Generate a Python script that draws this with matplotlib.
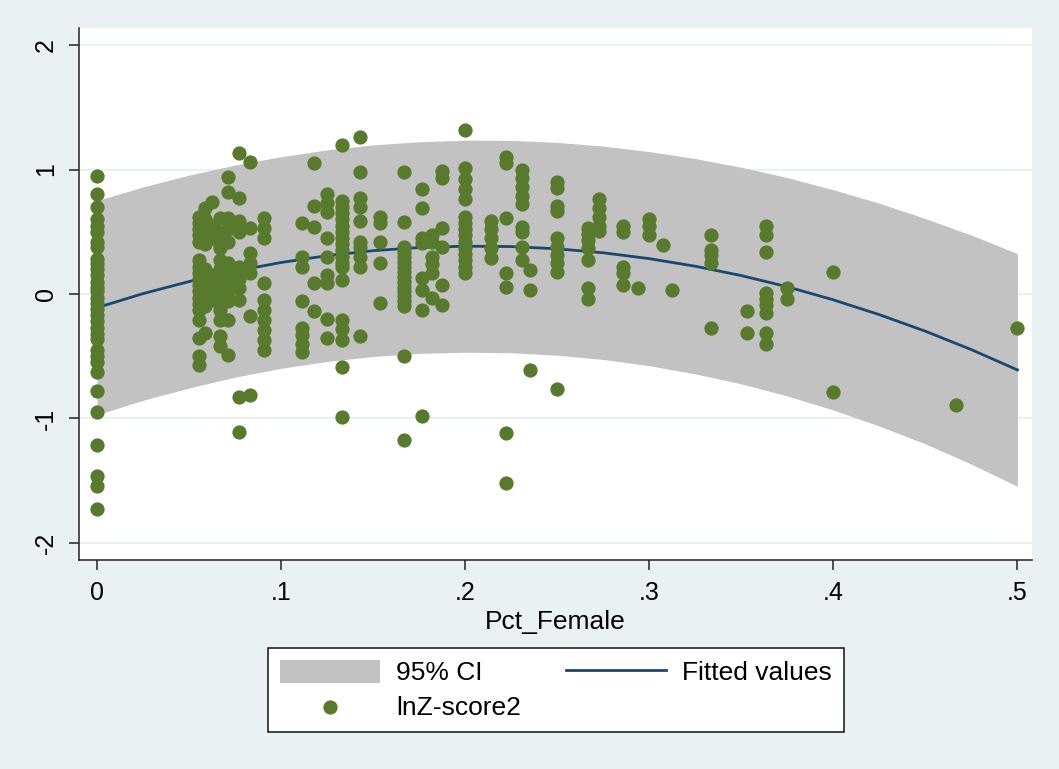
import numpy as np
import matplotlib.pyplot as plt
import matplotlib as mpl

plt.rcParams['font.family'] = ['Liberation Sans', 'DejaVu Sans']

# discrete Pct_Female levels and the lnZ-score2 values read at each level
x_levels = [0.0, 0.0556, 0.0588, 0.0625, 0.0667, 0.0714, 0.0769, 0.0833, 0.0909,
            0.1111, 0.1176, 0.125, 0.1333, 0.1429, 0.1538, 0.1667, 0.1765, 0.1818,
            0.1875, 0.2, 0.2143, 0.2222, 0.2308, 0.2353, 0.25, 0.2667, 0.2727,
            0.2857, 0.2941, 0.3, 0.3077, 0.3125, 0.3333, 0.3529, 0.3636, 0.375,
            0.4, 0.4667, 0.5]
y_groups = [
    [0.95, 0.80, 0.70, 0.60, 0.55, 0.50, 0.42, 0.38, 0.28, 0.24, 0.20, 0.15, 0.10, 0.06,
     0.02, -0.03, -0.07, -0.12, -0.17, -0.22, -0.27, -0.32, -0.36, -0.45, -0.50, -0.55,
     -0.63, -0.78, -0.95, -1.21, -1.46, -1.54, -1.73],
    [0.62, 0.57, 0.52, 0.47, 0.42, 0.27, 0.22, 0.17, 0.12, 0.07, 0.02, -0.03, -0.08,
     -0.13, -0.21, -0.35, -0.50, -0.57],
    [0.69, 0.60, 0.50, 0.40, 0.20, 0.10, 0.00, -0.10, -0.31],
    [0.74, 0.55, 0.45, 0.15, 0.05, -0.05],
    [0.61, 0.50, 0.40, 0.37, 0.27, 0.20, 0.12, 0.05, -0.05, -0.13, -0.21, -0.34, -0.42],
    [0.94, 0.82, 0.61, 0.52, 0.42, 0.25, 0.18, 0.10, 0.02, -0.06, -0.21, -0.49],
    [1.13, 0.77, 0.59, 0.50, 0.22, 0.12, 0.05, -0.05, -0.83, -1.11],
    [1.06, 0.53, 0.33, 0.25, 0.17, -0.18, -0.81],
    [0.61, 0.53, 0.45, 0.09, -0.05, -0.13, -0.21, -0.29, -0.37, -0.45],
    [0.57, 0.30, 0.22, -0.06, -0.27, -0.33, -0.40, -0.47],
    [1.05, 0.71, 0.54, 0.09, -0.14],
    [0.80, 0.73, 0.66, 0.45, 0.30, 0.15, 0.09, -0.20, -0.35],
    [1.20, 0.75, 0.70, 0.65, 0.60, 0.55, 0.50, 0.45, 0.40, 0.35, 0.30, 0.25, 0.22, 0.11,
     -0.21, -0.28, -0.37, -0.59, -0.99],
    [1.26, 0.98, 0.77, 0.70, 0.59, 0.42, 0.38, 0.30, 0.22, -0.34],
    [0.62, 0.57, 0.42, 0.25, -0.07],
    [0.98, 0.58, 0.38, 0.34, 0.30, 0.26, 0.22, 0.18, 0.14, 0.10, 0.06, 0.02, -0.02,
     -0.06, -0.10, -0.50, -1.17],
    [0.84, 0.69, 0.45, 0.41, 0.13, 0.03, -0.13, -0.98],
    [0.47, 0.42, 0.30, 0.24, 0.17, -0.03],
    [0.99, 0.93, 0.53, 0.38, 0.07, -0.09],
    [1.32, 1.01, 0.92, 0.84, 0.76, 0.62, 0.57, 0.52, 0.47, 0.42, 0.37, 0.32, 0.27, 0.22, 0.17],
    [0.59, 0.52, 0.45, 0.37, 0.29],
    [1.10, 1.05, 0.61, 0.17, 0.06, -1.12, -1.52],
    [1.00, 0.93, 0.86, 0.79, 0.72, 0.54, 0.50, 0.38, 0.27],
    [0.19, 0.03, -0.61],
    [0.90, 0.85, 0.71, 0.67, 0.45, 0.38, 0.31, 0.25, 0.18, -0.76],
    [0.53, 0.48, 0.43, 0.37, 0.27, 0.05, -0.04],
    [0.76, 0.69, 0.62, 0.55, 0.51],
    [0.55, 0.50, 0.22, 0.17, 0.07],
    [0.05],
    [0.60, 0.55, 0.47],
    [0.39],
    [0.03],
    [0.47, 0.35, 0.31, 0.25, -0.27],
    [-0.14, -0.31],
    [0.55, 0.47, 0.34, 0.01, -0.04, -0.09, -0.15, -0.31, -0.40],
    [0.05, -0.04],
    [0.18, -0.79],
    [-0.89],
    [-0.27],
]

# fitted quadratic and 95% CI
fit_x = [0.0, 0.025, 0.05, 0.075, 0.10, 0.125, 0.15, 0.175, 0.20, 0.225, 0.25,
         0.275, 0.30, 0.325, 0.35, 0.375, 0.40, 0.425, 0.45, 0.475, 0.50]
fit_y = [-0.110, 0.003, 0.100, 0.184, 0.253, 0.308, 0.348, 0.373, 0.384, 0.381, 0.363,
         0.331, 0.284, 0.223, 0.148, 0.058, -0.047, -0.166, -0.299, -0.447, -0.610]
ci_hi = [0.750, 0.860, 0.955, 1.036, 1.103, 1.158, 1.198, 1.223, 1.236, 1.234, 1.218,
         1.188, 1.144, 1.088, 1.018, 0.935, 0.838, 0.729, 0.606, 0.473, 0.325]
ci_lo = [-0.970, -0.854, -0.755, -0.668, -0.597, -0.542, -0.502, -0.477, -0.468, -0.472,
         -0.492, -0.526, -0.576, -0.642, -0.722, -0.819, -0.932, -1.061, -1.204, -1.367,
         -1.545]

xs = np.concatenate([[x] * len(g) for x, g in zip(x_levels, y_groups)])
ys = np.concatenate(y_groups)

bg = '#E9F1F3'
fig = plt.figure(figsize=(10.59, 7.69), dpi=100, facecolor=bg)
ax = fig.add_axes([0.0746, 0.2718, 0.9, 0.6918])
ax.set_facecolor('white')

ax.fill_between(fit_x, ci_lo, ci_hi, color='#C2C2C2', lw=0, label='95% CI', zorder=2)
ax.plot(fit_x, fit_y, color='#1A476F', lw=2, label='Fitted values', zorder=3)
ax.scatter(xs, ys, s=105, color='#587A2C', lw=0, label='lnZ-score2', zorder=4)

ax.set_xlim(-0.0098, 0.508)
ax.set_ylim(-2.137, 2.137)
ax.set_xticks([0, 0.1, 0.2, 0.3, 0.4, 0.5])
ax.set_xticklabels(['0', '.1', '.2', '.3', '.4', '.5'])
ax.set_yticks([-2, -1, 0, 1, 2])
ax.set_yticklabels(['-2', '-1', '0', '1', '2'], rotation=90, va='center')
ax.tick_params(labelsize=18, length=7, width=1.1, color='#222222')
ax.tick_params(axis='x', pad=8)
ax.tick_params(axis='y', pad=8)
ax.grid(axis='y', color=bg, lw=1.5, zorder=0)
ax.set_axisbelow(True)
for s in ['top', 'right']:
    ax.spines[s].set_visible(False)
for s in ['left', 'bottom']:
    ax.spines[s].set_linewidth(1.1)
    ax.spines[s].set_color('#222222')
ax.set_xlabel('Pct_Female', fontsize=19, labelpad=4)

h, l = ax.get_legend_handles_labels()
# order: CI, lnZ (first column), Fitted (second column)
order = [0, 2, 1]
leg = fig.legend([h[i] for i in order], [l[i] for i in order], ncol=2,
                 loc='center', bbox_to_anchor=(0.525, 0.1027), fontsize=19,
                 frameon=True, fancybox=False, edgecolor='#111111', framealpha=1,
                 handlelength=3.8, handleheight=1.0, handletextpad=0.6,
                 columnspacing=1.7, borderpad=0.45, labelspacing=0.35)
leg.get_frame().set_linewidth(1.1)

plt.savefig('out.png', dpi=100, facecolor=bg)
